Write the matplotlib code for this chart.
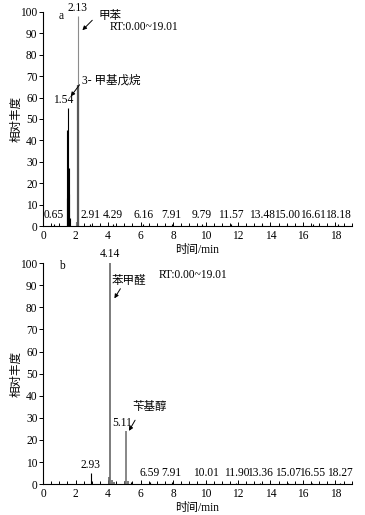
import matplotlib.pyplot as plt
import numpy as np

plt.rcParams['font.family'] = ['Liberation Serif', 'Noto Sans CJK SC']
plt.rcParams['font.size'] = 8.3

# chromatogram a: retention time (min) and relative abundance
rt_a = [0.65, 1.45, 1.50, 1.54, 1.58, 1.62, 1.66, 2.00, 2.13, 2.17, 2.91, 4.29, 6.16, 7.91, 9.79, 11.57, 13.48, 15.00, 16.61, 18.18]
ab_a = [1.0, 13, 45, 55, 27, 15, 4, 2, 98, 66, 1.2, 1.0, 1.0, 0.8, 0.8, 0.8, 0.8, 0.8, 0.8, 0.8]
col_a = ['k', 'k', 'k', 'k', 'k', 'k', 'k', '0.5', '0.55', '0.35', 'k', 'k', 'k', 'k', 'k', 'k', 'k', 'k', 'k', 'k']
lab_a = ['0.65', '2.91', '4.29', '6.16', '7.91', '9.79', '11.57', '13.48', '15.00', '16.61', '18.18']
lab_a_x = [0.65, 2.91, 4.29, 6.16, 7.91, 9.79, 11.57, 13.48, 15.00, 16.61, 18.18]

# chromatogram b
rt_b = [2.93, 4.05, 4.14, 4.22, 4.35, 5.02, 5.11, 5.20, 5.40, 6.59, 7.91, 10.01, 11.90, 13.36, 15.07, 16.55, 18.27]
ab_b = [5.0, 3.0, 100, 2.0, 1.0, 1.5, 24, 1.5, 0.8, 0.8, 0.8, 0.6, 0.6, 0.6, 0.6, 0.6, 0.6]
col_b = ['k', '0.4', '0.4', '0.4', '0.4', '0.4', '0.45', '0.4', 'k', 'k', 'k', 'k', 'k', 'k', 'k', 'k', 'k']
lab_b = ['6.59', '7.91', '10.01', '11.90', '13.36', '15.07', '16.55', '18.27']
lab_b_x = [6.59, 7.91, 10.01, 11.90, 13.36, 15.07, 16.55, 18.27]

fs = 8.3

fig = plt.figure(figsize=(3.65, 5.15), dpi=100)
ax1 = fig.add_axes([0.118, 0.561, 0.846, 0.416])
ax2 = fig.add_axes([0.118, 0.060, 0.846, 0.429])

def setup(ax):
    ax.set_xlim(0, 19.01)
    ax.set_ylim(0, 100)
    ax.spines['top'].set_visible(False)
    ax.spines['right'].set_visible(False)
    ax.spines['left'].set_linewidth(0.8)
    ax.spines['bottom'].set_linewidth(0.8)
    ax.set_xticks(np.arange(0, 19, 2))
    ax.set_xticks(np.arange(0, 19.01, 0.5), minor=True)
    ax.set_yticks(np.arange(0, 101, 10))
    ax.tick_params(axis='x', which='both', direction='in', length=3, width=0.7, pad=3)
    ax.tick_params(axis='x', which='minor', length=2.5)
    ax.tick_params(axis='y', direction='out', length=3, width=0.7, pad=1)
    ax.set_xlabel('时间/min', labelpad=1)
    ax.set_ylabel('相对丰度')
    ax.yaxis.set_label_coords(-0.066, 0.5)

setup(ax1)
setup(ax2)

lws_a = [0.8 if c != '0.35' else 1.6 for c in col_a]
ax1.vlines(rt_a, 0, ab_a, colors=col_a, linewidth=lws_a)
for t, x in zip(lab_a, lab_a_x):
    ax1.text(x, 2.5, t, ha='center', va='bottom', fontsize=fs)
ax1.text(2.13, 99, '2.13', ha='center', va='bottom', fontsize=fs, clip_on=False)
ax1.text(1.23, 56, '1.54', ha='center', va='bottom', fontsize=fs)
ax1.text(1.1, 98, 'a', ha='center', va='center', fontsize=fs)
ax1.text(3.4, 98, '甲苯', ha='left', va='center', fontsize=fs)
ax1.text(4.1, 93, 'RT:0.00~19.01', ha='left', va='center', fontsize=fs)
ax1.text(2.4, 68, '3- 甲基戊烷', ha='left', va='center', fontsize=fs)
ax1.annotate('', xy=(2.3, 90.5), xytext=(3.15, 97),
             arrowprops=dict(arrowstyle='-|>', color='k', lw=0.7, mutation_scale=6))
ax1.annotate('', xy=(1.6, 59.5), xytext=(2.35, 67),
             arrowprops=dict(arrowstyle='-|>', color='k', lw=0.7, mutation_scale=6))

lws_b = [1.2 if c != 'k' else 0.8 for c in col_b]
ax2.vlines(rt_b, 0, ab_b, colors=col_b, linewidth=lws_b)
for t, x in zip(lab_b, lab_b_x):
    ax2.text(x, 2.5, t, ha='center', va='bottom', fontsize=fs)
ax2.text(4.14, 101.5, '4.14', ha='center', va='bottom', fontsize=fs, clip_on=False)
ax2.text(2.93, 6, '2.93', ha='center', va='bottom', fontsize=fs)
ax2.text(4.85, 25, '5.11', ha='center', va='bottom', fontsize=fs)
ax2.text(1.17, 98.5, 'b', ha='center', va='center', fontsize=fs)
ax2.text(4.2, 92, '苯甲醛', ha='left', va='center', fontsize=fs)
ax2.text(7.1, 94.5, 'RT:0.00~19.01', ha='left', va='center', fontsize=fs)
ax2.text(5.5, 35, '苄基醇', ha='left', va='center', fontsize=fs)
ax2.annotate('', xy=(4.3, 83), xytext=(4.85, 89.5),
             arrowprops=dict(arrowstyle='-|>', color='k', lw=0.7, mutation_scale=6))
ax2.annotate('', xy=(5.2, 23), xytext=(5.75, 30),
             arrowprops=dict(arrowstyle='-|>', color='k', lw=0.7, mutation_scale=6))

fig.savefig('out.png', dpi=100)
